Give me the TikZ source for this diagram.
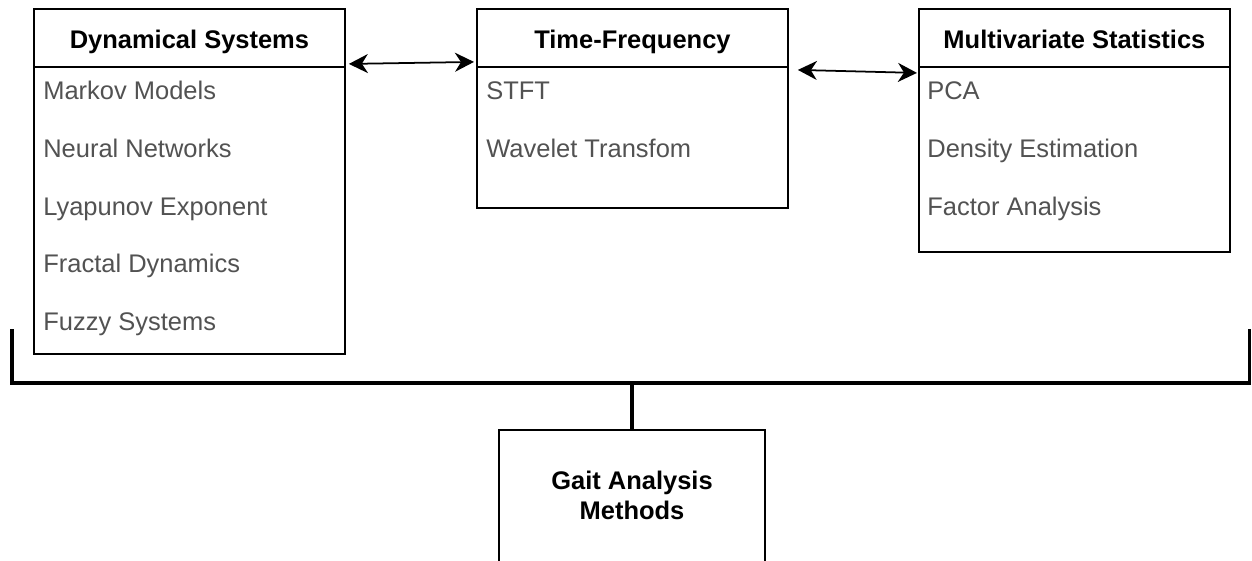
\documentclass[tikz,border=0pt]{standalone}
\usepackage{fontspec}
\setmainfont{Liberation Sans}
\usetikzlibrary{arrows.meta,positioning}

\begin{document}
\begin{tikzpicture}[x=0.02cm,y=-0.02cm,
    headbox/.style={draw,line width=1.1pt,anchor=north west,
      minimum width=6.22cm,minimum height=1.16cm,inner sep=0pt,
      font=\fontsize{14.5}{17}\selectfont\bfseries,
      text height=12pt,text depth=0pt},
    bodybox/.style={draw,line width=1.1pt,anchor=north west,
      minimum width=6.22cm,inner sep=0pt},
    item/.style={anchor=base west,inner sep=0pt,text=black!68,
      font=\fontsize{14.5}{17}\selectfont},
    link/.style={{Stealth[length=3.8mm,width=3.8mm,inset=1.2mm]}-{Stealth[length=3.8mm,width=3.8mm,inset=1.2mm]},
      line width=1pt},
    bracket/.style={line width=2.2pt}]
  \clip (0,0) rectangle (1252,561);

  \node[headbox] (dynhead) at (33,8) {Dynamical Systems};
  \node[bodybox,minimum height=5.74cm] (dynbody) at (33,66) {};
  \node[item] (markov) at (43,99) {Markov Models};
  \node[item] (neural) at (43,157) {Neural Networks};
  \node[item] (lyapunov) at (43,215) {Lyapunov Exponent};
  \node[item] (fractal) at (43,272) {Fractal Dynamics};
  \node[item] (fuzzy) at (43,330) {Fuzzy Systems};

  \node[headbox] (tfhead) at (476,8) {Time-Frequency};
  \node[bodybox,minimum height=2.82cm] (tfbody) at (476,66) {};
  \node[item] (stft) at (486,99) {STFT};
  \node[item] (wavelet) at (486,157) {Wavelet Transfom};

  \node[headbox] (mshead) at (918,8) {Multivariate Statistics};
  \node[bodybox,minimum height=3.7cm] (msbody) at (918,66) {};
  \node[item] (pca) at (927,99) {PCA};
  \node[item] (density) at (927,157) {Density Estimation};
  \node[item] (factor) at (927,215) {Factor Analysis};

  \node[draw,line width=1.1pt,anchor=north,minimum width=5.32cm,
    minimum height=2.8cm,align=center,text depth=5pt,
    font=\fontsize{14.5}{17}\selectfont\bfseries] (gait) at (632,429)
    {Gait Analysis\\Methods};

  \draw[link] ([xshift=0.06cm,yshift=0.08cm]dynhead.south east)
    -- ([xshift=-0.04cm,yshift=0.12cm]tfhead.south west);
  \draw[link] ([xshift=0.18cm,yshift=-0.04cm]tfhead.south east)
    -- ([xshift=-0.02cm,yshift=-0.1cm]mshead.south west);

  \coordinate (bleft) at (12,329);
  \coordinate (bright) at (1249.5,329);
  \coordinate (join) at (632,383);
  \draw[bracket] (bleft) |- (join) -| (bright);
  \draw[bracket] (join) -- (gait);
\end{tikzpicture}
\end{document}
